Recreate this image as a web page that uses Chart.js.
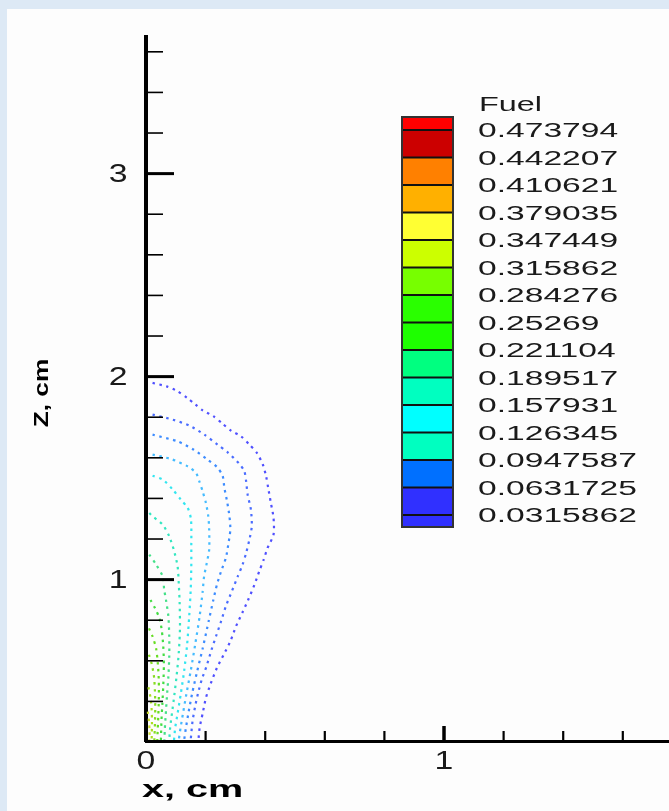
<!DOCTYPE html>
<html>
<head>
<meta charset="utf-8">
<script src="https://cdn.jsdelivr.net/npm/chart.js@4.4.1/dist/chart.umd.min.js"></script>
<style>
  html, body { margin: 0; padding: 0; }
  body { width: 669px; height: 811px; overflow: hidden; background: #dde9f5; position: relative; }
  #panel { position: absolute; left: 7px; top: 9px; width: 662px; height: 802px; background: #fdfdfd; }
  canvas { display: block; }
</style>
</head>
<body>
<div id="panel"><canvas id="fuelChart" width="662" height="802"></canvas></div>
<script>
// Fuel contour levels (legend order, top to bottom)
const levels = [0.473794, 0.442207, 0.410621, 0.379035, 0.347449, 0.315862, 0.284276,
    0.25269, 0.221104, 0.189517, 0.157931, 0.126345, 0.0947587, 0.0631725, 0.0315862];
const levelLabels = ['0.473794', '0.442207', '0.410621', '0.379035', '0.347449', '0.315862', '0.284276',
    '0.25269', '0.221104', '0.189517', '0.157931', '0.126345', '0.0947587', '0.0631725', '0.0315862'];
const bandColors = ['#ff0000', '#cc0000', '#ff8000', '#ffb000', '#ffff33', '#ccff00', '#77ff00', '#2aff00',
    '#1eff00', '#00ff80', '#00ffc0', '#00ffff', '#00ffc0', '#0070ff', '#3030ff', '#3030ff'];

// axis ticks
const xMinorTicks = [0.2, 0.4, 0.6, 0.8, 1.2, 1.4, 1.6];
const xMajorTicks = [1];
const xLabelValues = [0, 1];
const xTickLabels = ['0', '1'];
const yMinorTicks = [0.4, 0.6, 0.8, 1.2, 1.4, 1.6, 1.8, 2.2, 2.4, 2.6, 2.8, 3.2, 3.4, 3.6];
const yMajorTicks = [1, 2, 3];
const yTickLabels = ['1', '2', '3'];

// isolines, [x, z] in cm
const fuel_0316 = [[0.022,1.969],[0.069,1.952],[0.106,1.928],[0.138,1.895],[0.166,1.862],[0.19,1.834],
    [0.226,1.805],[0.257,1.768],[0.285,1.734],[0.319,1.706],[0.347,1.665],[0.372,1.624],[0.392,1.567],
    [0.403,1.509],[0.41,1.452],[0.419,1.378],[0.428,1.304],[0.428,1.222],[0.408,1.156],[0.395,1.099],
    [0.38,1.041],[0.364,0.975],[0.343,0.901],[0.324,0.839],[0.302,0.77],[0.283,0.696],[0.261,0.631],
    [0.238,0.565],[0.218,0.491],[0.201,0.417],[0.19,0.34],[0.18,0.27],[0.176,0.21]];
const fuel_0632 = [[0.022,1.813],[0.09,1.788],[0.145,1.759],[0.196,1.714],[0.24,1.665],[0.274,1.627],
    [0.313,1.571],[0.33,1.534],[0.336,1.484],[0.341,1.419],[0.352,1.345],[0.355,1.263],[0.347,1.197],
    [0.336,1.131],[0.324,1.074],[0.308,1.016],[0.288,0.942],[0.268,0.869],[0.252,0.795],[0.235,0.721],
    [0.22,0.655],[0.203,0.573],[0.187,0.507],[0.175,0.442],[0.165,0.376],[0.156,0.3],[0.15,0.21]];
const fuel_0948 = [[0.022,1.714],[0.106,1.681],[0.16,1.64],[0.207,1.591],[0.238,1.555],[0.257,1.512],
    [0.263,1.452],[0.272,1.386],[0.28,1.312],[0.283,1.246],[0.276,1.172],[0.268,1.107],[0.252,1.041],
    [0.238,0.975],[0.226,0.9],[0.211,0.8],[0.19,0.66],[0.172,0.55],[0.155,0.44],[0.142,0.34],
    [0.134,0.27],[0.128,0.21]];
const fuel_1263 = [[0.022,1.616],[0.084,1.594],[0.14,1.558],[0.168,1.525],[0.179,1.484],[0.19,1.435],
    [0.201,1.378],[0.209,1.312],[0.212,1.246],[0.212,1.148],[0.204,1.082],[0.195,1.016],[0.19,0.94],
    [0.18,0.82],[0.165,0.68],[0.15,0.55],[0.136,0.44],[0.124,0.34],[0.116,0.27],[0.11,0.21]];
const fuel_1579 = [[0.022,1.512],[0.056,1.493],[0.09,1.443],[0.117,1.394],[0.14,1.353],[0.151,1.296],
    [0.152,1.164],[0.152,1.066],[0.15,0.95],[0.145,0.82],[0.138,0.68],[0.128,0.55],[0.117,0.44],
    [0.106,0.34],[0.098,0.27],[0.094,0.21]];
const fuel_1895 = [[0.011,1.328],[0.022,1.312],[0.056,1.271],[0.078,1.213],[0.093,1.148],[0.106,1.066],
    [0.11,0.98],[0.113,0.88],[0.114,0.76],[0.11,0.64],[0.103,0.53],[0.095,0.43],[0.087,0.34],
    [0.081,0.27],[0.078,0.21]];
const fuel_2211 = [[0.011,1.123],[0.034,1.074],[0.056,1.016],[0.061,0.951],[0.067,0.9],[0.075,0.82],
    [0.078,0.72],[0.078,0.62],[0.075,0.52],[0.07,0.42],[0.066,0.33],[0.063,0.26],[0.062,0.21]];
const fuel_2527 = [[0.015,0.9],[0.03,0.86],[0.045,0.81],[0.053,0.75],[0.058,0.67],[0.06,0.58],
    [0.058,0.48],[0.055,0.39],[0.052,0.31],[0.05,0.21]];
const fuel_2843 = [[0.01,0.76],[0.022,0.72],[0.034,0.66],[0.04,0.58],[0.043,0.5],[0.043,0.41],
    [0.041,0.32],[0.039,0.25],[0.038,0.21]];
const fuel_3159 = [[0.01,0.63],[0.02,0.58],[0.027,0.52],[0.03,0.45],[0.031,0.37],[0.03,0.29],[0.028,0.21]];
const fuel_3474 = [[0.008,0.47],[0.015,0.42],[0.019,0.36],[0.02,0.29],[0.019,0.21]];
const fuel_3790 = [[0.006,0.35],[0.01,0.3],[0.012,0.25],[0.011,0.21]];

const isolines = [
    { line: fuel_0316, color: '#5050ff' },
    { line: fuel_0632, color: '#4a6cff' },
    { line: fuel_0948, color: '#3d8cff' },
    { line: fuel_1263, color: '#44bbff' },
    { line: fuel_1579, color: '#33e6f0' },
    { line: fuel_1895, color: '#33e6c0' },
    { line: fuel_2211, color: '#44e088' },
    { line: fuel_2527, color: '#44dd44' },
    { line: fuel_2843, color: '#66dd22' },
    { line: fuel_3159, color: '#88dd22' },
    { line: fuel_3474, color: '#aade22' },
    { line: fuel_3790, color: '#cedd33' }
];

const X_MAX = 1.755;
const Y_MIN = 0.205;
const Y_MAX = 3.673;

// text drawn wide, the way the plot's bitmap font looks
function wideText(ctx, text, x, y, sx, align, font) {
    ctx.save();
    ctx.translate(x, y);
    ctx.scale(sx, 1);
    ctx.font = font;
    ctx.textAlign = align;
    ctx.fillText(text, 0, 0);
    ctx.restore();
}

const axisDecor = {
    id: 'axisDecor',
    afterDraw(chart) {
        const ctx = chart.ctx;
        const xs = chart.scales.x, ys = chart.scales.y;
        const left = chart.chartArea.left, bottom = chart.chartArea.bottom;
        ctx.save();
        ctx.strokeStyle = '#000';
        function tick(x1, y1, x2, y2, w) {
            ctx.lineWidth = w;
            ctx.beginPath();
            ctx.moveTo(x1, y1);
            ctx.lineTo(x2, y2);
            ctx.stroke();
        }
        // ticks point into the plot
        yMinorTicks.forEach(v => { const p = ys.getPixelForValue(v); tick(left, p, left + 17, p, 1.6); });
        yMajorTicks.forEach(v => { const p = ys.getPixelForValue(v); tick(left, p, left + 28, p, 3); });
        xMinorTicks.forEach(v => { const p = xs.getPixelForValue(v); tick(p, bottom, p, bottom - 10, 2.2); });
        xMajorTicks.forEach(v => { const p = xs.getPixelForValue(v); tick(p, bottom, p, bottom - 15, 3.5); });

        ctx.fillStyle = '#1a1a1a';
        ctx.textBaseline = 'middle';
        yMajorTicks.forEach((v, i) => {
            wideText(ctx, yTickLabels[i], left - 18.5, ys.getPixelForValue(v) + 1, 1.3, 'right', '26px "Liberation Sans", Arial, sans-serif');
        });
        xLabelValues.forEach((v, i) => {
            wideText(ctx, xTickLabels[i], xs.getPixelForValue(v), bottom + 21, 1.3, 'center', '26px "Liberation Sans", Arial, sans-serif');
        });

        // axis titles
        ctx.fillStyle = '#000';
        ctx.textBaseline = 'alphabetic';
        wideText(ctx, 'x, cm', left - 4, bottom + 56, 1.65, 'left', 'bold 24px "Liberation Sans", Arial, sans-serif');
        ctx.save();
        ctx.translate(41, (chart.chartArea.top + bottom) / 2 + 4);
        ctx.rotate(-Math.PI / 2);
        wideText(ctx, 'Z, cm', 0, 0, 1.25, 'center', 'bold 21px "Liberation Sans", Arial, sans-serif');
        ctx.restore();
        ctx.restore();
    }
};

const colorLegend = {
    id: 'colorLegend',
    afterDraw(chart) {
        const ctx = chart.ctx;
        const barLeft = 395, barRight = 446, barTop = 108, barBottom = 518;
        const firstEdge = 121, step = 27.5;
        const edges = [barTop];
        levels.forEach((v, i) => edges.push(firstEdge + step * i));
        edges.push(barBottom);
        ctx.save();
        bandColors.forEach((c, i) => {
            ctx.fillStyle = c;
            ctx.fillRect(barLeft, edges[i], barRight - barLeft, edges[i + 1] - edges[i]);
        });
        ctx.strokeStyle = '#111';
        ctx.lineWidth = 2;
        for (let i = 1; i < edges.length - 1; i++) {
            ctx.beginPath();
            ctx.moveTo(barLeft, edges[i]);
            ctx.lineTo(barRight, edges[i]);
            ctx.stroke();
        }
        ctx.strokeStyle = '#333';
        ctx.strokeRect(barLeft, barTop, barRight - barLeft, barBottom - barTop);

        ctx.fillStyle = '#1a1a1a';
        ctx.textBaseline = 'middle';
        const font = '20px "Liberation Sans", Arial, sans-serif';
        wideText(ctx, 'Fuel', 472, 96, 1.62, 'left', font);
        levelLabels.forEach((t, i) => {
            wideText(ctx, t, 471, firstEdge + step * i + 1.5, 1.68, 'left', font);
        });
        ctx.restore();
    }
};

new Chart(document.getElementById('fuelChart'), {
    type: 'scatter',
    data: {
        datasets: isolines.map(iso => ({
            data: iso.line.map(p => ({ x: p[0], y: p[1] })),
            showLine: true,
            borderColor: iso.color,
            borderWidth: 2.2,
            borderDash: [2.5, 4.5],
            tension: 0.25,
            pointRadius: 0,
            fill: false
        }))
    },
    options: {
        responsive: false,
        animation: false,
        layout: { padding: { top: 28, left: 0, right: 0, bottom: 0 } },
        plugins: {
            legend: { display: false },
            tooltip: { enabled: false }
        },
        scales: {
            x: {
                type: 'linear',
                min: 0,
                max: X_MAX,
                afterFit: s => { s.height = 70; },
                grid: { display: false, drawTicks: false },
                border: { display: true, color: '#000', width: 3 },
                ticks: { display: false }
            },
            y: {
                type: 'linear',
                min: Y_MIN,
                max: Y_MAX,
                afterFit: s => { s.width = 139; },
                grid: { display: false, drawTicks: false },
                border: { display: true, color: '#000', width: 4 },
                ticks: { display: false }
            }
        }
    },
    plugins: [axisDecor, colorLegend]
});
</script>
</body>
</html>
